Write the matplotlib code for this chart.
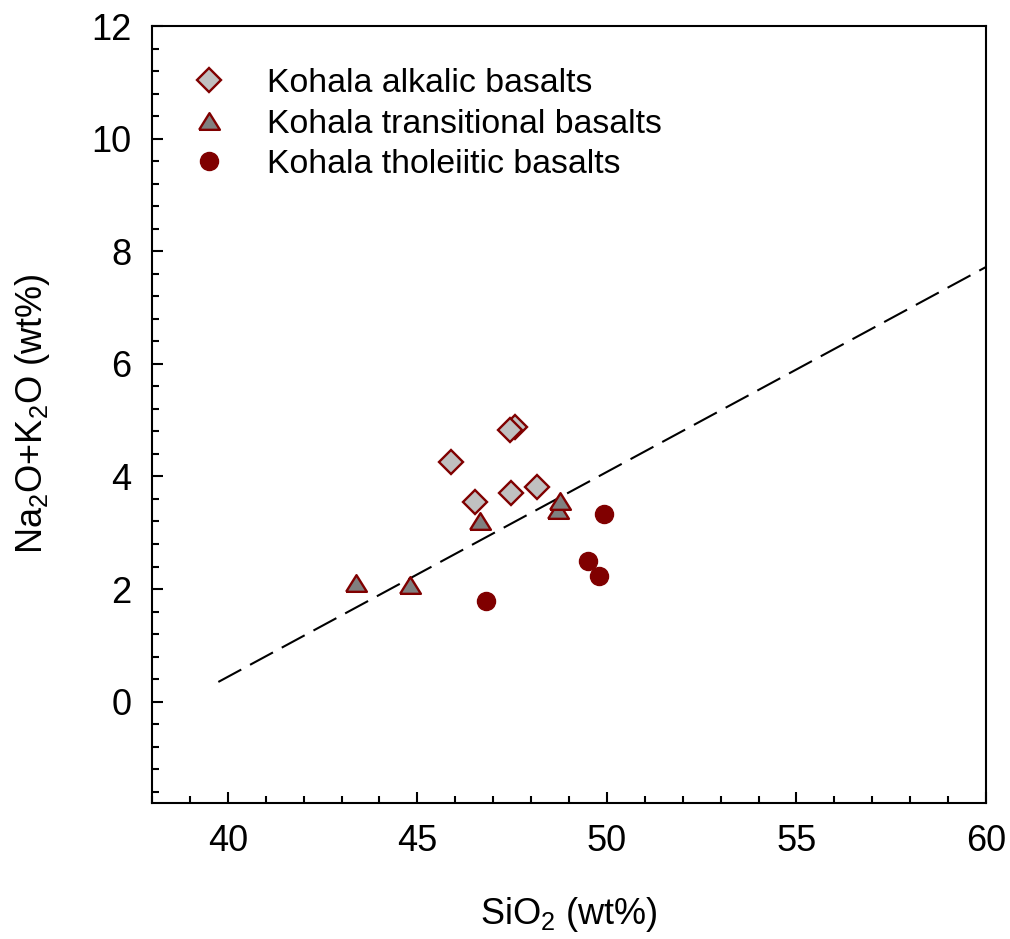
import matplotlib
matplotlib.use("Agg")
import matplotlib.pyplot as plt
from matplotlib.ticker import MultipleLocator

plt.rcParams['font.family'] = ['Liberation Sans', 'DejaVu Sans']
plt.rcParams['mathtext.fontset'] = 'custom'
plt.rcParams['mathtext.rm'] = 'Liberation Sans'
plt.rcParams['mathtext.it'] = 'Liberation Sans:italic'

# Data (SiO2 wt%, Na2O+K2O wt%)
alk_sio2 = [45.90, 46.53, 47.46, 48.16, 47.57, 47.45]
alk_tot = [4.25, 3.54, 3.71, 3.81, 4.87, 4.82]

tra_sio2 = [43.39, 44.80, 46.64, 48.70, 48.75]
tra_tot = [2.10, 2.07, 3.21, 3.41, 3.56]

tho_sio2 = [46.80, 49.51, 49.79, 49.92]
tho_tot = [1.78, 2.49, 2.24, 3.33]

line_sio2 = [39.75, 60.0]
line_tot = [0.35, 7.72]

labels = ["Kohala alkalic basalts", "Kohala transitional basalts", "Kohala tholeiitic basalts"]

edge = '#800000'

fig = plt.figure(figsize=(10.10, 9.39), dpi=100)
ax = fig.add_axes([152/1010, 1-803/939, (986-152)/1010, (803-26)/939])

ax.plot(line_sio2, line_tot, color='black', lw=1.5, linestyle=(0, (12.5, 4.8)), zorder=1)

ax.plot(alk_sio2, alk_tot, linestyle='none', marker='D', ms=11.8, mfc='#c0c0c0',
        mec=edge, mew=1.7, label=labels[0], zorder=3)
tri = [(-1, -0.8), (1, -0.8), (0, 0.8), (-1, -0.8)]
ax.plot(tra_sio2, tra_tot, linestyle='none', marker=tri, ms=15, mfc='#808080',
        mec=edge, mew=1.7, label=labels[1], zorder=4)
ax.plot(tho_sio2, tho_tot, linestyle='none', marker='o', ms=13, mfc=edge,
        mec=edge, mew=1.0, label=labels[2], zorder=5)

ax.set_xlim(38, 60)
ax.set_ylim(-1.8, 12)
ax.xaxis.set_major_locator(MultipleLocator(5))
ax.xaxis.set_minor_locator(MultipleLocator(1))
ax.yaxis.set_major_locator(MultipleLocator(2))
ax.yaxis.set_minor_locator(MultipleLocator(0.4))

ax.tick_params(which='both', direction='in', top=False, right=False, width=1.5,
               labelsize=26)
ax.tick_params(which='major', length=8)
ax.tick_params(which='minor', length=5)
ax.tick_params(axis='x', which='major', pad=15)
ax.tick_params(axis='y', which='major', pad=15)
for s in ax.spines.values():
    s.set_linewidth(1.5)

ax.set_xlabel('SiO$_2$ (wt%)', fontsize=26, va='center')
ax.set_ylabel('Na$_2$O+K$_2$O (wt%)', fontsize=26, va='center')
ax.xaxis.set_label_coords((569-152)/834, -(915-803)/777)
ax.yaxis.set_label_coords((33-152)/834, (803-414)/777)

leg = ax.legend(loc='upper left', bbox_to_anchor=(0.032, 0.963), frameon=False,
                fontsize=24.4, handlelength=1.0, handletextpad=1.22,
                labelspacing=0.28, borderaxespad=0)

fig.savefig('out.png', dpi=100)
